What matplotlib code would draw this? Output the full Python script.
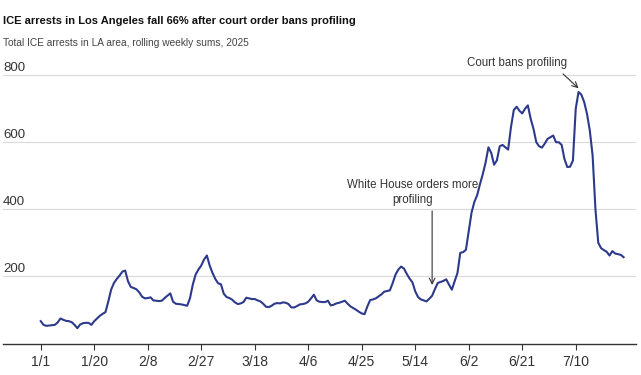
import matplotlib
matplotlib.use("Agg")
import matplotlib.pyplot as plt
import matplotlib.transforms as mtransforms
import pandas as pd

# ---- data ----
start_date = "2025-01-01"
arrests = [
    66, 55, 52, 53, 54, 55, 62, 74, 70, 67,
    66, 63, 55, 45, 56, 60, 61, 61, 55, 66,
    74, 82, 88, 93, 125, 160, 180, 192, 202, 214,
    217, 185, 168, 165, 161, 152, 139, 134, 135, 137,
    128, 127,
    126, 127, 135, 142, 149, 124, 118, 117, 116, 114,
    112, 134, 175, 205, 220, 232, 250, 262, 232, 210,
    192, 179, 176, 148, 138, 135, 130, 122, 117, 119,
    123, 136, 134, 132, 132, 128, 125, 118, 109, 108,
    112, 118, 120, 119, 122, 121, 117, 107, 107, 111,
    116, 117, 119, 124, 134, 145, 128, 124, 123, 123,
    127, 113, 115, 119, 121, 124, 127, 118, 110, 105,
    100, 94, 89, 87, 110, 129, 131, 134, 140, 146,
    154, 156, 158, 180, 205, 220, 229, 223, 207, 193,
    182, 155, 138, 131,
    128,
    125, 133, 142, 162, 180, 183, 186, 191, 175, 160, 185,
    210, 270, 272, 279, 335, 390, 422, 442, 475, 505,
    540, 585, 568, 533, 546, 588, 592, 585, 578, 645,
    696, 706, 694, 686, 700, 710, 670, 640, 600, 588,
    584, 596, 610, 615, 620, 600, 600, 592, 550, 526,
    527, 545, 700, 750, 742, 720, 685, 635, 560, 400,
    300, 284, 278, 273, 262, 275, 268, 266, 264, 257,
]
x_tick_labels = ["1/1", "1/20", "2/8", "2/27", "3/18", "4/6", "4/25",
                 "5/14", "6/2", "6/21", "7/10"]
y_ticks = [200, 400, 600, 800]

title = "ICE arrests in Los Angeles fall 66% after court order bans profiling"
subtitle = "Total ICE arrests in LA area, rolling weekly sums, 2025"
wh_note = "White House orders more\nprofiling"
wh_date = "2025-05-20"
wh_value = 174
court_note = "Court bans profiling"
court_date = "2025-07-11"
court_value = 761

dates = pd.date_range(start_date, periods=len(arrests), freq="D")
tick_dates = [pd.Timestamp(f"2025-{lab.split('/')[0]}-{lab.split('/')[1]}") for lab in x_tick_labels]

# ---- style ----
plt.rcParams["font.family"] = ["Liberation Sans", "DejaVu Sans"]
line_color = "#2d3a8c"
text_color = "#333333"

fig = plt.figure(figsize=(6.41, 3.75), dpi=100)
ax = fig.add_axes([0.00468, 0.0819, 0.9875, 0.7264])

ax.plot(dates, arrests, color=line_color, lw=1.5, solid_joinstyle="round", zorder=3)

t0 = pd.Timestamp(start_date)
ax.set_xlim(t0 - pd.Timedelta(days=13.4), t0 + pd.Timedelta(days=211.4))
ax.set_ylim(-3, 810)

for s in ["top", "right", "left"]:
    ax.spines[s].set_visible(False)
ax.spines["bottom"].set_color("#333333")
ax.spines["bottom"].set_linewidth(1.0)

ax.set_yticks(y_ticks)
ax.set_yticklabels([])
ax.tick_params(axis="y", length=0)
ax.yaxis.grid(True, color="#d9d9d9", lw=0.8)
ax.set_axisbelow(True)

ax.set_xticks(tick_dates)
ax.set_xticklabels(x_tick_labels)
ax.tick_params(axis="x", length=4, width=0.8, color="#333333", pad=4,
               labelsize=10, labelcolor=text_color)

trans = mtransforms.blended_transform_factory(ax.transAxes, ax.transData)
for v in y_ticks:
    ax.text(0.0, v + 12, str(v), transform=trans, ha="left", va="baseline",
            fontsize=9.5, color=text_color)

# annotations
ax.annotate("", xy=(pd.Timestamp(wh_date), wh_value),
            xytext=(pd.Timestamp(wh_date), 395),
            arrowprops=dict(arrowstyle="->", color="#333333", lw=0.8,
                            shrinkA=0, shrinkB=0), zorder=4)
ax.text(t0 + pd.Timedelta(days=132.2), 410, wh_note, ha="center", va="bottom",
        fontsize=8.3, color=text_color, linespacing=1.3)

ax.annotate("", xy=(pd.Timestamp(court_date), court_value),
            xytext=(t0 + pd.Timedelta(days=185.5), 804),
            arrowprops=dict(arrowstyle="->", color="#333333", lw=0.8,
                            shrinkA=0, shrinkB=0), annotation_clip=False, zorder=4)
ax.text(t0 + pd.Timedelta(days=169.3), 837, court_note, ha="center", va="center",
        fontsize=8.3, color=text_color, clip_on=False)

fig.text(0.0047, 1 - 20.7 / 375, title, ha="left", va="center",
         fontsize=8, fontweight="bold", color="#111111")
fig.text(0.0047, 1 - 42.7 / 375, subtitle, ha="left", va="center",
         fontsize=7.3, color="#444444")

fig.savefig("out.png", dpi=100)
